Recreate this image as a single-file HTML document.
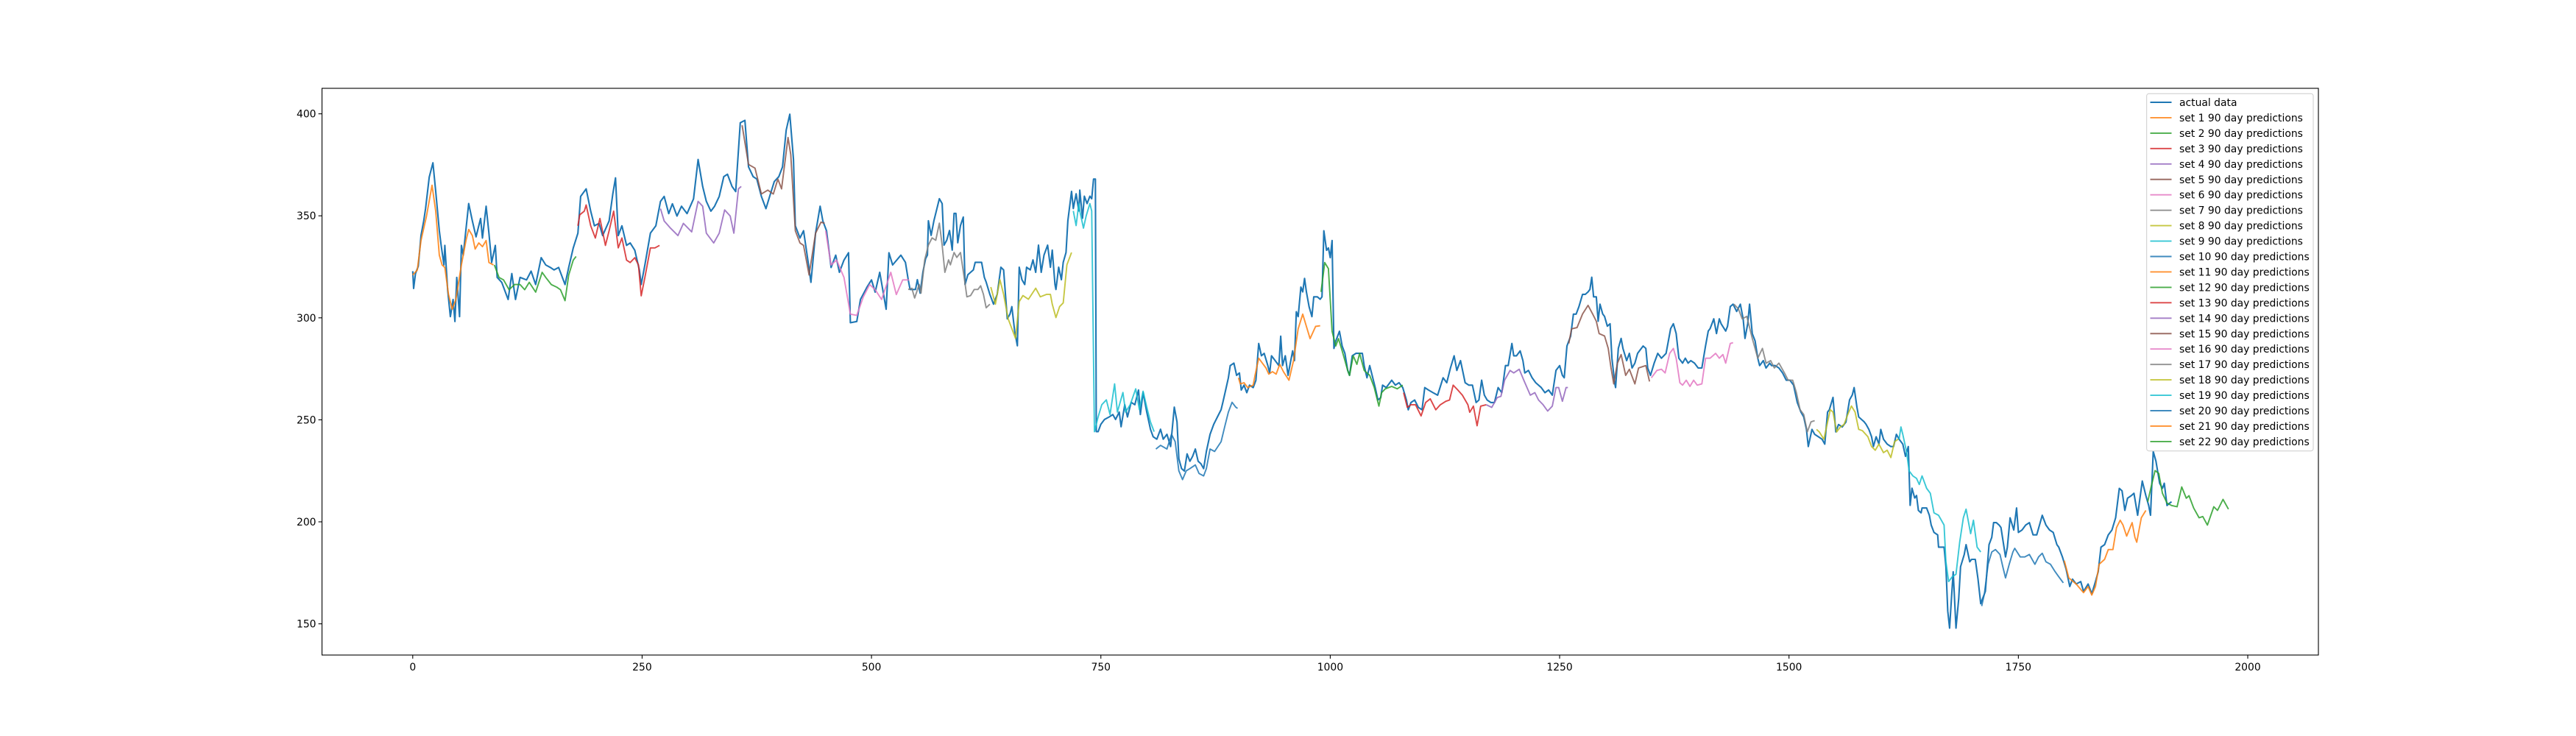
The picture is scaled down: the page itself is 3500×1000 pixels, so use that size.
<!DOCTYPE html>
<html><head><meta charset="utf-8"><style>
html,body{margin:0;padding:0;background:#fff}
svg{display:block;font-family:"DejaVu Sans","Liberation Sans",sans-serif}
</style></head><body>
<svg id="chart" width="3500" height="1000" viewBox="0 0 3500 1000" xmlns="http://www.w3.org/2000/svg">
<rect width="3500" height="1000" fill="#fff"/>
<g id="series"></g>
<g id="axes"></g>
<g id="legend"></g>
</svg>
<script>
// ---- data: flat [day, price, day, price, ...] ----
const actualXY=[0,322.9,1,314.4,3,321.7,6,325.3,9,340.3,12,347.5,14,353.5,18,369,22,376,25,362,29,342.7,31,335.5,34,325.9,35,335.5,38,313.8,41,300.6,44,309,46,298.2,48,319.8,51,300.6,53,335.5,55,330.7,61,356,65,347.5,69,339.7,74,348.7,76,339.1,80,354.7,83,341.5,86,327.1,90,335.5,92,319.8,97,317.4,104,309,108,321.7,112,309,117,319.8,124,318.6,129,322.9,134,316.3,140,329.5,145,325.9,150,324.7,154,323.5,159,324.7,166,316.3,170,324.7,175,334.3,180,341.5,183,359.5,189,363.2,194,352.3,198,345.1,203,346.3,207,340.3,214,347.5,218,360.7,221,368.6,224,340.3,228,345.1,233,335.5,237,336.7,242,333.1,247,323.5,249,316.3,253,325.9,259,341.5,265,345.1,270,357.1,274,359.5,279,351.1,283,355.9,288,349.9,293,354.7,299,351.1,306,358.3,311,377.6,316,364.4,320,357.1,325,352.3,329,354.7,334,359.5,339,369.2,343,370.4,348,364.4,352,361.9,357,395.6,362,396.8,366,374,371,369.2,375,368,380,359.5,385,353.5,389,359.5,394,366.8,399,369.2,403,374,407,392,411,399.8,415,377.6,417,345.1,422,339.1,426,342.7,431,327.1,434,317.4,439,341.5,444,354.7,447,347.5,451,342.7,456,324.7,461,330.7,465,322.3,470,328.3,475,331.9,477,297.6,484,298.2,488,309,495,315,500,318.6,504,312.6,509,322.3,516,304.2,519,331.9,523,325.9,532,330.7,537,327.2,540,318.7,542,313.9,548,313.9,550,318.7,553,312.1,556,322.3,559,329,561,330.8,562,347.6,565,340.4,568,347.6,570,351.2,574,358.4,577,356,579,335.6,582,338,585,342.8,588,333.2,590,351.2,592,351.2,594,336.8,597,345.2,600,349.4,602,316.3,605,321.1,608,322.3,611,323.5,613,327.2,617,327.2,620,327.2,623,319.9,625,317.5,629,311.5,633,306.7,637,311.5,641,324.8,644,323.5,648,299.5,651,301.9,653,305.5,656,293.5,659,286.3,661,324.8,664,318.7,667,316.3,669,324.8,673,323.5,676,328.4,679,322.3,682,335.6,685,322.3,688,330.8,692,335.6,695,324.8,697,333.2,700,316.3,701,313.9,704,324.8,707,318.7,709,327.2,712,332,714,347.6,718,362,720,353.6,723,360.8,726,352.4,727,362.6,730,348.8,732,359.6,735,356,738,359.6,740,358.4,742,368,744,368,745,244.2,747,244.2,750,247.8,754,250.2,759,251.4,763,252.6,766,250.2,770,253.8,772,246.6,776,257.4,779,251.4,783,258.6,787,257.4,791,264.6,793,252.6,796,263.4,800,253.8,804,245.4,807,241.7,811,240.5,815,245.4,818,240.5,822,242.9,826,236.9,830,256.2,833,249,835,230.9,838,226.1,841,224.9,844,233.3,847,229.7,850,232.1,853,235.7,856,229.7,859,228.5,862,226.1,865,234.5,869,242.9,873,247.8,877,251.4,881,255,883,258.6,886,264.6,889,270.6,891,276.6,895,277.8,898,271.8,901,273,903,264.6,906,267,909,263.3,912,267,916,265.8,919,269.4,921,281.4,922,287.4,925,281.4,928,282.6,932,276.6,934,273,936,281.4,940,279,944,276.6,946,291,948,276.6,951,281.4,954,271.8,956,276.6,959,283.8,961,279,963,303,965,300.6,968,315.1,970,312.7,972,319.3,974,312.7,977,305.4,980,300.6,982,310.3,986,310.3,989,309.1,991,310.3,993,342.7,996,333.1,998,334.3,1000,329.5,1002,337.9,1004,285,1006,288.6,1010,293.4,1013,286.2,1016,282.6,1019,274.2,1021,271.8,1024,281.4,1028,282.6,1032,282.6,1035,282.6,1037,276.6,1040,270.6,1043,276.6,1047,269.4,1049,265.8,1052,259.7,1055,260.9,1057,267,1061,265.8,1067,269.4,1071,267,1075,268.2,1079,265.8,1083,259.7,1085,254.9,1088,258.5,1092,259.7,1096,256.1,1100,254.9,1103,265.8,1107,264.6,1112,263.3,1117,262.1,1123,270.6,1127,268.2,1131,275.4,1135,281.4,1138,274.2,1142,279,1147,268.2,1151,267,1155,267,1159,258.5,1162,259.7,1165,269.4,1168,262.1,1171,259.7,1175,258.5,1179,258.5,1183,265.8,1187,263.3,1191,276.6,1194,276.6,1198,287.4,1200,281.4,1203,281.4,1207,283.8,1210,279,1212,273,1216,274.2,1220,270.6,1224,268.2,1230,265.8,1234,263.3,1238,264.6,1242,262.1,1246,274.2,1250,276.6,1253,271.8,1255,270.6,1258,286.2,1262,291,1265,301.8,1268,301.8,1271,305.4,1275,311.5,1278,311.5,1281,312.7,1283,313.9,1285,319.9,1287,310.3,1290,310.3,1292,298.3,1294,306.7,1297,301.9,1299,300.7,1302,295.9,1305,297.1,1307,280.2,1310,268.2,1311,265.8,1314,285,1317,289.9,1319,285,1323,279,1326,282.6,1329,275.4,1332,277.8,1335,282.6,1337,283.8,1341,286.2,1344,285,1346,275.4,1349,271.8,1353,277.8,1357,282.6,1361,280.2,1366,282.6,1371,294.7,1374,297.1,1377,292.3,1380,280.2,1384,277.8,1387,280.2,1390,277.8,1393,279,1397,277.8,1401,275.4,1405,275.4,1409,286.2,1412,293.5,1414,294.7,1418,299.5,1421,292.3,1424,299.5,1426,297.1,1431,293.5,1433,295.9,1436,305.5,1439,306.7,1443,303.1,1447,306.7,1450,299.5,1452,289.9,1455,297.1,1457,306.7,1460,292.3,1463,288.7,1466,280.2,1468,276.6,1472,279,1475,275.4,1479,277.8,1481,276.6,1485,276.6,1489,275.4,1493,273,1497,269.4,1501,269.4,1505,267,1509,258.6,1513,253.8,1516,251.4,1519,245.3,1521,236.9,1525,245.3,1528,242.9,1532,241.7,1536,240.5,1539,238.1,1542,253.8,1544,255,1548,261,1551,244.1,1554,247.7,1558,246.5,1562,248.9,1566,259.8,1569,262.2,1571,265.8,1574,256.2,1576,251.4,1579,250.2,1582,249,1584,247.8,1587,245.3,1590,241.7,1592,236.9,1595,241.7,1598,238.1,1600,245.3,1603,240.5,1607,238.1,1611,236.9,1614,236.9,1617,242.9,1620,240.5,1624,238.1,1627,232.1,1630,236.9,1632,208.1,1634,216.5,1637,211.7,1639,212.9,1641,205.6,1644,204.4,1645,206.8,1650,206.8,1653,203.2,1655,198.4,1658,194.8,1662,193.6,1663,187.6,1669,187.6,1671,178,1673,156.3,1675,147.9,1677,162.3,1679,175.5,1682,147.9,1685,162.3,1687,178,1691,184,1693,188.8,1697,180.4,1699,181.6,1703,181.6,1706,172,1709,159.9,1711,162.3,1714,165.9,1718,188.8,1721,192.4,1723,199.6,1726,199.6,1729,198.4,1731,197.2,1736,182.8,1738,187.6,1741,202,1745,196,1748,206.8,1750,194.8,1754,196,1758,198.4,1762,199.6,1766,193.6,1770,193.6,1776,203.2,1780,198.4,1784,196,1788,194.8,1792,188.8,1794,187.6,1798,182.8,1802,176.8,1806,168.3,1809,171.9,1813,169.5,1818,170.7,1821,165.9,1826,169.5,1830,164.7,1834,170.7,1837,175.5,1840,187.6,1844,188.8,1848,193.6,1852,196,1856,202,1860,216.4,1863,215.2,1866,205.6,1869,211.6,1873,212.8,1876,214,1880,203.2,1885,220,1889,212.8,1892,208,1894,203.2,1897,234.5,1900,229.7,1904,218.9,1907,216.4,1909,218.9,1912,208,1915,209.2,1917,209.8];
const predictionSetsXY=[
[0,321,5,323.5,9,337.9,15,349.9,21,365,25,352.3,29,330.7,32,325.9,35,324.7,39,311.4,43,304.2,47,309,53,325.9,58,337.9,61,343.3,65,340.3,68,333.7,72,336.7,76,334.9,80,337.9,83,327.1,88,325.9],
[89,325.9,94,319.8,99,318.6,105,313.8,111,316.3,117,316.3,122,313.8,127,317.4,134,312.6,141,322.3,145,319.8,151,316.3,157,315,161,313.8,166,308.4,170,321,175,328.3,178,330.1],
[180,345.1,182,350.5,187,352.3,189,355.3,194,345.1,199,339.1,204,348.7,210,335.5,214,342.7,219,352.3,224,334.3,228,339.1,233,328.3,237,327.1,242,329.5,246,325.9,249,310.8,253,319.8,259,334.3,264,334.3,269,335.5],
[270,353.5,274,347.5,281,343.9,289,340.3,295,346.3,304,342.1,311,357.1,316,354.7,320,341.5,328,336.7,334,341.5,340,352.9,346,349.9,350,341.5,355,363.2,358,364.4],
[359,394.4,366,375.2,373,373.4,380,360.7,387,362.6,393,360.7,398,368,402,363.2,409,388.4,412,380,417,342.7,422,336.7,426,335.5,432,321,439,341.5,445,346.9,449,346.3],
[450,342.7,456,325.9,462,328.3,470,319.8,477,301.8,484,301.2,491,310.2,498,316.3,504,313.8,511,309,521,322.3,527,311.4,534,318.6,541,318.6],
[540,313.9,544,314.5,547,309.7,552,316.3,554,312.1,558,328.4,562,335.6,566,339.2,570,338,574,346.4,577,335.6,580,322.3,584,328.4,586,326,590,332,593,329.6,597,332,601,319.9,604,310.3,608,310.9,612,313.9,616,313.9,619,315.7,622,311.5,625,304.9,629,306.7],
[630,315.1,635,306.7,640,318.7,644,311.5,649,299.5,653,294.7,657,289.9,661,307.9,665,310.9,671,309.1,679,314.5,684,310.3,691,311.5,695,311.5,697,306.7,701,300.1,705,305.5,709,307.3,713,326,718,332],
[720,352.4,723,345.2,726,356,727,352.4,731,344,734,350,738,356,740,352.4,743,244.2,747,251.4,751,257.4,756,259.8,760,252.6,765,267.6,768,253.8,774,263.4,777,253.8,782,257.4,788,265.2,792,255,796,264,800,256.2,804,249,808,244.2],
[810,235.7,815,237.5,822,235.7,827,242.9,831,239.3,835,225,839,220.7,843,225,847,226.1,853,227.9,857,223.7,862,222.5,865,226.1,869,235.7,874,234.5,881,239.3,885,246.6,889,253.8,893,258.6,897,256.2,899,255.6],
[900,270.6,902,267.6,906,268.2,910,265.8,916,267,918,271.8,922,280.2,926,277.8,930,275.4,933,272.4,937,273.6,941,272.4,945,277.2,949,273.6,955,269.4,960,279,965,294.6,970,301.8,974,295.8,978,289.8,984,295.8,989,296.1],
[990,312.7,994,327.1,998,324.1,1002,293.4,1006,286.2,1009,289.8,1013,283.8,1019,274.2,1021,271.8,1025,281.4,1029,277.2,1032,282.6,1037,274.2,1043,271.8,1048,265.8,1053,256.7,1056,263.3,1060,265.2,1067,266.4,1073,265.2,1079,267],
[1080,263.3,1084,256.1,1088,257.4,1093,257.4,1099,251.9,1104,258.5,1109,260.3,1115,254.9,1120,257.4,1126,259.1,1130,259.7,1134,267,1139,264.6,1144,262.1,1150,257.4,1152,253.7,1156,256.7,1160,247.1,1164,256.7,1170,257.4],
[1170,257.4,1176,256.1,1182,260.9,1186,261.5,1190,269.4,1196,274.2,1200,273,1206,274.8,1211,269.4,1218,262.1,1223,263.3,1227,259.7,1232,257.4,1237,254.3,1242,256.7,1246,265.8,1249,265.8,1253,259.1,1257,265.8,1259,265.8],
[1260,287.4,1263,294.6,1269,295.2,1275,301.9,1281,306.1,1286,301.9,1290,298.3,1293,292.3,1299,291.1,1303,285,1306,275.4,1309,267.6,1313,277.8,1317,282,1322,271.8,1326,274.8,1332,267.6,1336,275.4,1340,276,1344,276.6,1348,268.8],
[1350,270.6,1356,274.2,1361,274.8,1365,273,1370,282.6,1374,285,1377,280.2,1381,268.2,1384,267,1388,269.4,1392,266.4,1396,269.4,1400,267,1405,267.6,1409,280.2,1414,280.2,1420,282.6,1424,280.2,1428,282,1431,277.8,1436,287.4,1439,287.8],
[1440,306.7,1445,304.3,1449,299.5,1454,300.7,1460,289.9,1466,280.2,1471,285,1475,277.8,1480,279,1484,275.4,1489,277.8,1495,273,1499,269.4,1504,269.4,1508,263.4,1512,255,1516,252.6,1520,244.1,1524,249,1528,249.6],
[1530,245.3,1533,244.1,1538,240.5,1542,248.9,1545,255,1548,253.8,1552,244.1,1556,246.5,1560,247.7,1564,252.6,1568,256.8,1572,253.8,1576,245.3,1580,244.7,1586,241.7,1590,236.9,1594,235.1,1598,238.1,1603,233.9,1607,235.1,1611,231.5,1615,239.3,1619,240.5],
[1620,240.5,1622,246.5,1624,242.9,1628,234.5,1631,224.9,1635,222.5,1639,221.3,1642,218.3,1645,222.5,1650,216.4,1654,214,1658,204.4,1663,203.2,1669,198.4,1671,180.4,1674,170.7,1678,173.1,1682,174.3,1686,190,1690,202,1693,206.2,1698,194.2,1701,200.8,1705,187.6,1709,185.2],
[1710,158.7,1713,164.7,1717,179.2,1721,185.2,1725,186.4,1730,184,1733,178,1736,172.5,1740,179.2,1744,185.2,1746,187,1752,182.8,1757,182.8,1762,184,1768,179.2,1772,182.8,1776,184.6,1780,180.4,1785,179.2,1790,175.6,1794,173.1,1799,170.1],
[1800,181,1805,172.5,1813,169.5,1821,165.3,1826,168.3,1830,164.1,1834,168.3,1838,179.2,1844,181.6,1848,186.4,1853,186.4,1857,197.2,1861,200.8,1864,198.4,1868,193,1874,199.6,1877,192.4,1879,190,1884,202,1889,205.6],
[1891,209.8,1895,217.7,1899,225.1,1903,223.7,1907,214,1912,209.2,1917,208,1923,207.4,1928,217.1,1933,211.6,1936,212.8,1941,206.8,1947,202,1951,202.6,1956,198.4,1963,207.4,1967,205.6,1973,211,1979,206.2]
];
const xTicks=[0,250,500,750,1000,1250,1500,1750,2000];
const yTicks=[150,200,250,300,350,400];
const seriesLabels=["actual data"].concat(Array.from({length:22},(_,i)=>"set "+(i+1)+" 90 day predictions"));

// ---- layout ----
const NS="http://www.w3.org/2000/svg";
const L=437.5,R=3150,T=120,B=890;
const xMin=-98.9,xMax=2077,yMin=134.7,yMax=412.5;
const tab=["#1f77b4","#ff7f0e","#2ca02c","#d62728","#9467bd","#8c564b","#e377c2","#7f7f7f","#bcbd22","#17becf"];
function xS(d){return L+(d-xMin)/(xMax-xMin)*(R-L);}
function yS(v){return B-(v-yMin)/(yMax-yMin)*(B-T);}
function mk(tag,attrs,parent){const e=document.createElementNS(NS,tag);for(const k in attrs)e.setAttribute(k,attrs[k]);parent.appendChild(e);return e;}
function pathFrom(xy){let s="";for(let i=0;i<xy.length;i+=2){s+=(i?"L":"M")+xS(xy[i]).toFixed(1)+","+yS(xy[i+1]).toFixed(1);}return s;}

const gS=document.getElementById("series");
const aPath=mk("path",{d:pathFrom(actualXY),fill:"none",stroke:tab[0],"stroke-width":2.1,"stroke-linejoin":"round"},gS);


predictionSetsXY.forEach((xy,k)=>{
  const p=mk("path",{d:pathFrom(xy),fill:"none",stroke:tab[(k+1)%10],"stroke-width":1.9,"stroke-opacity":0.85,"stroke-linejoin":"round"},gS);
  
  
});

// ---- axes ----
const gA=document.getElementById("axes");
const frame=mk("rect",{x:L,y:T,width:R-L,height:B-T,fill:"none",stroke:"#000","stroke-width":1.1},gA);


xTicks.forEach(t=>{
  const x=xS(t);
  const tk=mk("line",{x1:x,y1:B,x2:x,y2:B+4.9,stroke:"#000","stroke-width":1.1},gA);
  
  
  const tx=mk("text",{x:x,y:B+21,"font-size":13.9,"text-anchor":"middle",fill:"#000"},gA);
  tx.textContent=t;
  
  
});
yTicks.forEach(t=>{
  const y=yS(t);
  const tk=mk("line",{x1:L-4.9,y1:y,x2:L,y2:y,stroke:"#000","stroke-width":1.1},gA);
  
  
  const tx=mk("text",{x:L-8,y:y+5,"font-size":13.9,"text-anchor":"end",fill:"#000"},gA);
  tx.textContent=t;
  
  
});

// ---- legend ----
const gL=document.getElementById("legend");
const box=mk("rect",{x:2916.7,y:127.3,width:226.3,height:485.4,rx:3,fill:"#fff","fill-opacity":0.8,stroke:"#ccc","stroke-width":1},gL);


seriesLabels.forEach((lab,i)=>{
  const y=139+i*20.95;
  const g=mk("g",{},gL);
  
  
  mk("line",{x1:2921.5,y1:y,x2:2950.5,y2:y,stroke:tab[i%10],"stroke-width":i===0?2.1:1.9,"stroke-opacity":i===0?1:0.85},g);
  const tx=mk("text",{x:2961,y:y+5,"font-size":13.9,fill:"#000"},g);
  tx.textContent=lab;
});
</script>
</body></html>
